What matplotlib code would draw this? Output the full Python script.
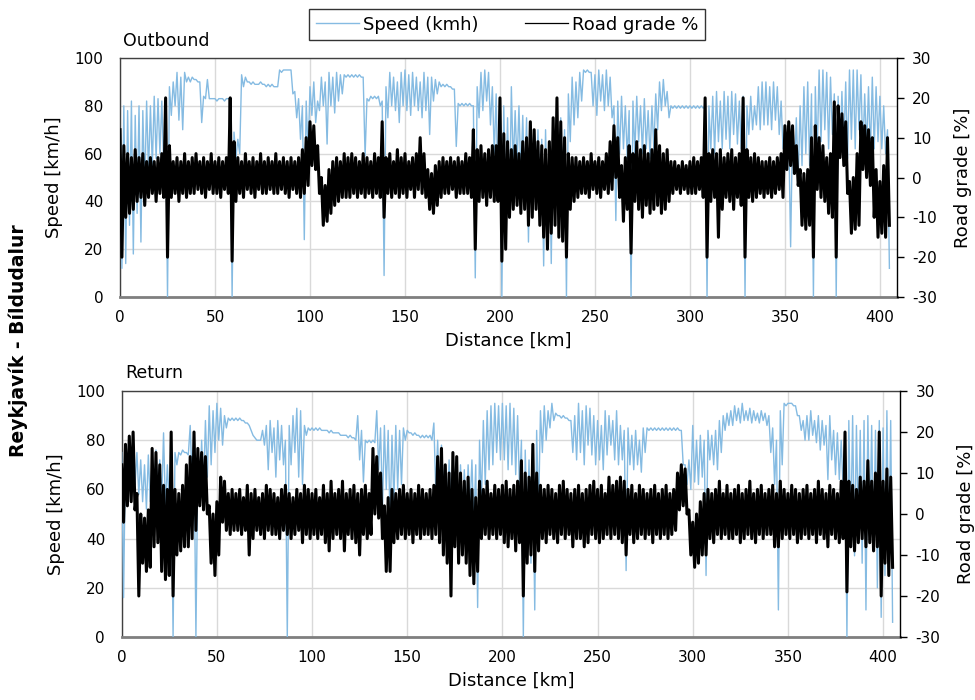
import numpy as np
import matplotlib
matplotlib.use("Agg")
import matplotlib.pyplot as plt
from matplotlib.lines import Line2D

plt.rcParams["font.family"] = ["DejaVu Sans"]
plt.rcParams["axes.unicode_minus"] = False

# ── Data: 2 km bins, peak (hi) at the bin start, trough (lo) 1 km later ─────

BIN_KM = 2

OUT_SPEED_HI = [
    65, 80, 78, 82, 76, 80, 78, 82, 80, 84,
    83, 82, 80, 88, 90, 94, 92, 94, 92, 92,
    91, 90, 84, 91, 83, 83, 83, 83, 83, 83,
    69, 66, 93, 92, 90, 90, 89, 90, 89, 89,
    89, 88, 95, 95, 95, 95, 86, 83, 80, 82,
    88, 90, 82, 92, 90, 94, 92, 94, 93, 93,
    93, 93, 93, 93, 92, 83, 84, 84, 84, 82,
    88, 94, 92, 90, 94, 95, 93, 94, 92, 90,
    94, 92, 92, 91, 90, 89, 89, 88, 87, 81,
    81, 81, 81, 80, 88, 94, 95, 94, 88, 85,
    82, 80, 75, 88, 78, 80, 76, 75, 72, 70,
    70, 66, 70, 65, 72, 68, 75, 70, 85, 92,
    90, 94, 95, 95, 94, 93, 95, 93, 95, 92,
    80, 82, 84, 80, 78, 82, 84, 80, 83, 78,
    80, 85, 90, 91, 86, 80, 80, 80, 80, 80,
    80, 80, 80, 80, 80, 80, 84, 86, 82, 86,
    84, 86, 85, 82, 84, 80, 84, 80, 88, 90,
    90, 88, 90, 88, 82, 72, 68, 70, 75, 80,
    88, 90, 85, 88, 95, 95, 94, 92, 85, 84,
    86, 90, 95, 95, 95, 93, 85, 88, 92, 88,
    84, 80, 70,
]
OUT_SPEED_LO = [
    12, 14, 30, 18, 35, 23, 45, 52, 55, 58,
    60, 55, 0, 76, 80, 74, 70, 90, 90, 91,
    90, 73, 83, 83, 83, 82, 83, 82, 83, 0,
    58, 60, 88, 90, 89, 89, 89, 89, 88, 88,
    88, 88, 94, 95, 95, 85, 75, 66, 24, 60,
    76, 73, 78, 80, 64, 80, 77, 82, 85, 92,
    92, 92, 92, 92, 59, 82, 83, 83, 80, 9,
    75, 80, 78, 73, 80, 78, 76, 80, 78, 75,
    78, 68, 82, 85, 88, 88, 88, 87, 63, 80,
    80, 80, 80, 8, 75, 78, 82, 72, 60, 40,
    0, 40, 34, 55, 55, 50, 45, 23, 40, 45,
    40, 13, 35, 14, 40, 30, 40, 0, 65, 72,
    75, 82, 94, 94, 80, 76, 82, 78, 80, 75,
    32, 60, 62, 58, 0, 60, 65, 60, 62, 58,
    62, 70, 78, 80, 75, 79, 79, 79, 79, 79,
    79, 79, 79, 79, 0, 62, 60, 65, 62, 66,
    62, 68, 64, 62, 0, 68, 70, 72, 70, 72,
    72, 70, 74, 68, 62, 55, 21, 52, 50, 55,
    60, 55, 0, 60, 65, 70, 62, 68, 0, 60,
    62, 58, 66, 62, 70, 60, 62, 60, 62, 65,
    62, 60, 12,
]
OUT_GRADE_HI = [
    12, 8, 6, 5, 7, 5, 6, 4, 5, 4,
    5, 6, 20, 8, 4, 5, 4, 6, 4, 5,
    6, 4, 5, 4, 6, 4, 5, 4, 5, 20,
    9, 5, 4, 6, 4, 5, 4, 6, 4, 5,
    4, 6, 4, 5, 4, 5, 4, 5, 7, 10,
    14, 13, 8, 0, -2, 2, 4, 5, 4, 6,
    5, 6, 5, 4, 6, 5, 4, 6, 5, 14,
    5, 6, 4, 7, 5, 6, 4, 5, 6, 10,
    6, 2, 1, 3, 4, 5, 4, 5, 4, 5,
    4, 6, 5, 12, 7, 8, 6, 7, 8, 8,
    20, 11, 9, 7, 8, 6, 9, 10, 14, 12,
    9, 8, 7, 9, 15, 20, 14, 10, 6, 5,
    5, 4, 5, 4, 6, 4, 5, 4, 6, 9,
    13, 10, 3, 5, 8, 6, 9, 7, 8, 6,
    7, 12, 8, 6, 7, 4, 4, 3, 4, 3,
    4, 5, 4, 5, 20, 6, 7, 6, 7, 5,
    6, 7, 5, 6, 20, 7, 5, 6, 5, 4,
    4, 5, 4, 5, 6, 13, 14, 13, 8, 2,
    1, 2, 10, 13, 10, 8, 5, 6, 19, 18,
    16, 14, -1, 0, 6, 14, 13, 12, 10, 2,
    -1, 3, 10,
]
OUT_GRADE_LO = [
    -20, -10, -9, -8, -6, -5, -7, -5, -4, -6,
    -4, -5, -20, -5, -4, -6, -4, -5, -4, -4,
    -3, -4, -5, -3, -4, -4, -5, -3, -4, -21,
    -6, -4, -5, -3, -4, -5, -3, -4, -4, -3,
    -4, -4, -3, -4, -5, -3, -4, -5, -4, -2,
    3, 2, -4, -12, -11, -9, -7, -6, -5, -5,
    -5, -4, -5, -4, -5, -4, -5, -4, -5, -10,
    -4, -5, -4, -5, -4, -5, -3, -5, -3, -4,
    -5, -8, -9, -7, -5, -4, -4, -3, -5, -4,
    -4, -4, -5, -18, -6, -5, -7, -5, -6, -6,
    -21, -18, -10, -8, -7, -9, -8, -12, -10, -8,
    -12, -15, -18, -14, -12, -15, -16, -20, -8, -6,
    -5, -4, -4, -5, -3, -4, -5, -3, -4, -3,
    0, -5, -11, -8, -19, -6, -8, -10, -7, -9,
    -8, -7, -9, -8, -6, -4, -3, -4, -3, -4,
    -4, -4, -3, -5, -20, -6, -5, -15, -8, -5,
    -6, -8, -5, -7, -20, -5, -6, -5, -4, -5,
    -4, -5, -4, -3, -5, 2, 3, 1, -2, -12,
    -13, -12, -20, -3, -5, -6, -9, -10, -20, 5,
    3, -4, -14, -13, -12, 2, 0, -2, -10, -15,
    -14, -15, -12,
]

RET_SPEED_HI = [
    75, 76, 78, 80, 75, 72, 70, 74, 72, 76,
    72, 83, 70, 72, 75, 75, 76, 75, 86, 80,
    70, 80, 88, 94, 92, 95, 93, 90, 89, 89,
    89, 89, 88, 87, 84, 81, 80, 84, 86, 88,
    85, 88, 86, 80, 86, 90, 93, 92, 86, 85,
    85, 85, 85, 84, 84, 84, 83, 83, 82, 82,
    82, 81, 90, 84, 80, 80, 80, 92, 85, 86,
    84, 82, 86, 84, 85, 84, 83, 83, 82, 82,
    82, 82, 87, 80, 78, 70, 72, 68, 65, 70,
    68, 70, 72, 70, 80, 88, 92, 94, 95, 94,
    95, 94, 95, 93, 90, 80, 76, 72, 70, 84,
    92, 94, 92, 95, 91, 90, 90, 89, 88, 90,
    95, 92, 94, 93, 90, 88, 86, 92, 90, 88,
    92, 86, 84, 85, 82, 84, 80, 85, 85, 85,
    85, 85, 85, 85, 85, 85, 85, 84, 70, 72,
    86, 80, 82, 80, 84, 82, 84, 88, 90, 91,
    92, 94, 93, 95, 92, 93, 92, 91, 92, 91,
    90, 85, 80, 92, 95, 95, 95, 94, 90, 88,
    90, 92, 88, 90, 88, 86, 90, 84, 83, 80,
    82, 88, 90, 86, 84, 88, 90, 86, 84, 88,
    85, 92, 88,
]
RET_SPEED_LO = [
    16, 62, 60, 62, 58, 55, 52, 55, 52, 55,
    55, 52, 55, 0, 70, 74, 75, 74, 63, 0,
    55, 60, 65, 70, 75, 80, 78, 85, 88, 88,
    88, 88, 87, 86, 82, 80, 80, 78, 68, 75,
    65, 72, 70, 0, 70, 75, 65, 62, 82, 84,
    84, 84, 84, 84, 83, 83, 83, 82, 82, 81,
    81, 80, 72, 63, 79, 79, 79, 68, 52, 60,
    46, 55, 60, 62, 80, 83, 82, 82, 81, 81,
    81, 80, 60, 55, 62, 48, 52, 44, 35, 50,
    48, 52, 45, 12, 55, 62, 68, 70, 75, 72,
    72, 68, 70, 66, 60, 0, 45, 30, 11, 50,
    75, 80, 85, 88, 90, 89, 89, 88, 75, 72,
    75, 70, 78, 74, 70, 72, 68, 74, 78, 72,
    70, 72, 27, 70, 68, 70, 67, 75, 84, 84,
    84, 84, 84, 84, 84, 84, 84, 70, 62, 60,
    63, 62, 65, 25, 72, 70, 68, 75, 84, 86,
    86, 88, 87, 88, 88, 87, 88, 87, 88, 86,
    75, 62, 11, 70, 94, 95, 94, 90, 84, 80,
    80, 82, 79, 76, 78, 64, 72, 66, 64, 60,
    0, 40, 33, 45, 30, 11, 40, 35, 20, 8,
    25, 30, 6,
]
RET_GRADE_HI = [
    12, 17, 19, 20, 5, 0, -1, 1, 16, 15,
    12, 7, 6, 20, 6, 5, 7, 12, 14, 20,
    16, 15, 14, 2, 0, 3, 9, 8, 5, 6,
    5, 6, 4, 7, 5, 6, 4, 5, 7, 6,
    5, 4, 6, 7, 5, 4, 6, 5, 7, 6,
    5, 6, 4, 7, 5, 8, 5, 6, 8, 5,
    6, 7, 5, 6, 7, 5, 16, 14, 10, 2,
    4, 6, 5, 6, 7, 5, 6, 5, 7, 6,
    5, 6, 7, 14, 16, 12, 10, 15, 14, 10,
    8, 9, 6, 4, 8, 6, 8, 5, 7, 6,
    7, 8, 6, 7, 8, 13, 10, 9, 17, 10,
    7, 6, 7, 6, 5, 7, 8, 6, 5, 6,
    7, 5, 6, 7, 8, 6, 7, 5, 9, 7,
    8, 9, 8, 6, 7, 5, 7, 6, 5, 6,
    7, 5, 6, 7, 5, 6, 10, 12, 11, 1,
    -2, 0, 3, 5, 6, 5, 6, 8, 5, 7,
    5, 6, 7, 5, 6, 8, 5, 6, 7, 5,
    6, 7, 5, 8, 6, 5, 7, 6, 5, 6,
    7, 5, 6, 8, 6, 5, 7, 6, 5, 8,
    20, 8, 7, 6, 9, 8, 13, 8, 10, 20,
    8, 11, 9,
]
RET_GRADE_LO = [
    -2, 2, 3, 1, -20, -12, -14, -13, -8, -7,
    -14, -16, -15, -20, -10, -9, -8, -8, -6, -4,
    2, 1, 0, -12, -15, -10, -2, -4, -5, -4,
    -4, -5, -4, -10, -6, -4, -5, -6, -4, -5,
    -5, -6, -4, -5, -6, -5, -4, -7, -5, -6,
    -5, -6, -5, -7, -9, -6, -5, -6, -9, -5,
    -6, -7, -10, -5, -6, -5, 0, -1, -6, -14,
    -14, -7, -6, -5, -6, -5, -7, -5, -6, -5,
    -5, -6, -5, -7, -10, -12, -20, -8, -12, -10,
    -12, -15, -17, -14, -6, -5, -6, -5, -6, -5,
    -7, -8, -6, -9, -7, -20, -12, -10, -14, -9,
    -6, -7, -5, -6, -7, -5, -6, -5, -8, -6,
    -6, -8, -7, -5, -6, -7, -6, -5, -6, -5,
    -6, -7, -10, -5, -7, -6, -5, -6, -5, -7,
    -5, -6, -5, -6, -5, -4, 1, 2, 0, -10,
    -13, -12, -10, -10, -6, -7, -5, -6, -5, -6,
    -6, -5, -7, -6, -5, -6, -7, -5, -6, -5,
    -5, -8, -8, -6, -5, -6, -5, -7, -6, -5,
    -6, -5, -7, -5, -6, -8, -5, -6, -7, -6,
    -19, -8, -9, -7, -6, -8, -7, -9, -8, -20,
    -12, -15, -13,
]

PANELS = [
    ("Outbound", OUT_SPEED_HI, OUT_SPEED_LO, OUT_GRADE_HI, OUT_GRADE_LO),
    ("Return", RET_SPEED_HI, RET_SPEED_LO, RET_GRADE_HI, RET_GRADE_LO),
]

X_TICKS = [0, 50, 100, 150, 200, 250, 300, 350, 400]
SPEED_TICKS = [0, 20, 40, 60, 80, 100]
GRADE_TICKS = [-30, -20, -10, 0, 10, 20, 30]

SPEED_COLOR = "#85bbe2"
GRADE_COLOR = "#000000"
GRID_COLOR = "#d9d9d9"


def zigzag(hi, lo):
    """Interleave bin peaks and troughs along the distance axis."""
    km = np.arange(len(hi)) * BIN_KM
    x = np.column_stack([km, km + BIN_KM / 2]).ravel()
    y = np.column_stack([hi, lo]).ravel()
    return x, y


fig = plt.figure(figsize=(9.75, 7.0), dpi=100)
boxes = [[0.1231, 0.5757, 0.7969, 0.3414],
         [0.1248, 0.0900, 0.7985, 0.3514]]

for box, (title, s_hi, s_lo, g_hi, g_lo) in zip(boxes, PANELS):
    ax = fig.add_axes(box)
    ax2 = ax.twinx()

    xs, ys = zigzag(s_hi, s_lo)
    ax.plot(xs, ys, color=SPEED_COLOR, lw=1.0, zorder=3)
    xg, yg = zigzag(g_hi, g_lo)
    ax2.plot(xg, yg, color=GRADE_COLOR, lw=2.2, solid_joinstyle="round")

    ax.set_xlim(0, 409)
    ax.set_ylim(0, 100)
    ax2.set_ylim(-30, 30)
    ax.set_xticks(X_TICKS)
    ax.set_yticks(SPEED_TICKS)
    ax2.set_yticks(GRADE_TICKS)

    ax.grid(True, color=GRID_COLOR, lw=1.0)
    ax.set_axisbelow(True)

    ax.tick_params(axis="both", length=0, labelsize=11, colors="#000000")
    ax.tick_params(axis="x", pad=9)
    ax.tick_params(axis="y", pad=12)
    ax2.tick_params(axis="y", length=5, width=1, direction="out",
                    labelsize=11, pad=6)

    for side in ("top", "left"):
        ax.spines[side].set_color("#404040")
        ax.spines[side].set_linewidth(1.0)
    ax.spines["bottom"].set_color("#7f7f7f")
    ax.spines["bottom"].set_linewidth(2.0)
    ax.spines["right"].set_visible(False)
    for side in ("top", "left", "bottom"):
        ax2.spines[side].set_visible(False)
    ax2.spines["right"].set_color("#000000")
    ax2.spines["right"].set_linewidth(1.0)

    ax.set_xlabel("Distance [km]", fontsize=13, labelpad=5)
    ax.set_ylabel("Speed [km/h]", fontsize=13)
    ax.yaxis.set_label_coords(-0.073, 0.5)
    ax2.set_ylabel("Road grade [%]", fontsize=13, rotation=90)
    ax2.yaxis.set_label_coords(1.073, 0.5)

    ax.text(0.004, 1.072, title, transform=ax.transAxes, fontsize=12.5,
            ha="left", va="center")

fig.text(0.0185, 0.514, "Reykjavík - Bíldudalur", rotation=90,
         fontsize=13.5, fontweight="bold", ha="center", va="center")

handles = [Line2D([], [], color=SPEED_COLOR, lw=1.0),
           Line2D([], [], color=GRADE_COLOR, lw=0.9)]
leg = fig.legend(handles, ["Speed (kmh)", "Road grade %"], ncol=2,
                 loc="center", bbox_to_anchor=(0.52, 0.965), fontsize=13,
                 frameon=True, fancybox=False, handlelength=2.4,
                 handletextpad=0.2, columnspacing=2.6, borderpad=0.35,
                 borderaxespad=0.0)
leg.get_frame().set_edgecolor("#000000")
leg.get_frame().set_linewidth(1.0)

fig.savefig("out.png", dpi=100)
